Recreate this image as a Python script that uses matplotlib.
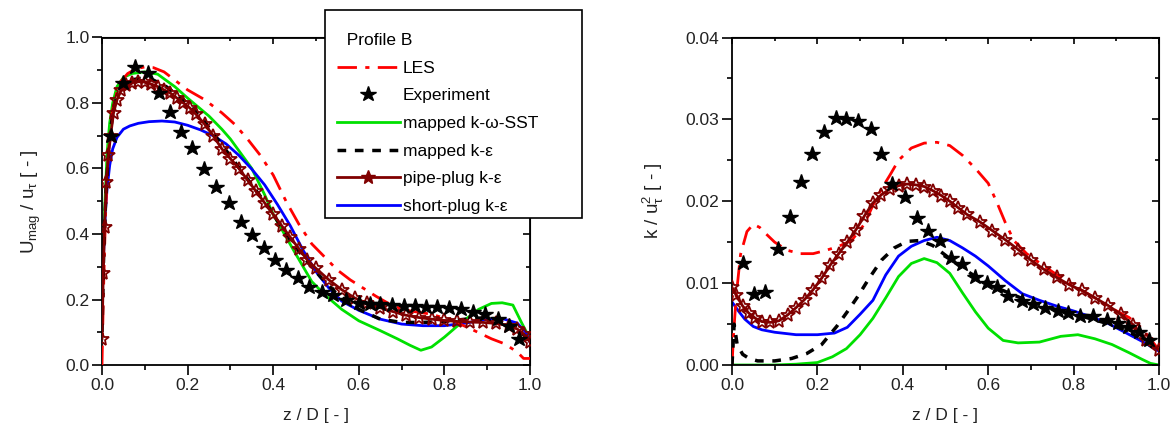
import matplotlib
matplotlib.use("Agg")
import matplotlib.pyplot as plt
from matplotlib.lines import Line2D
from matplotlib.patches import Rectangle
from matplotlib.ticker import MultipleLocator, FormatStrFormatter

plt.rcParams['font.family'] = ['Liberation Sans', 'DejaVu Sans']
plt.rcParams['mathtext.fontset'] = 'custom'
plt.rcParams['mathtext.rm'] = 'Liberation Sans'
plt.rcParams['mathtext.it'] = 'Liberation Sans'

# ---------------- left panel : U_mag / u_tau ----------------
les_x_u = [0.0, 0.003, 0.008, 0.015, 0.025, 0.04, 0.06, 0.08, 0.1, 0.12, 0.145, 0.17, 0.2, 0.24,
           0.28, 0.31, 0.34, 0.37, 0.4, 0.43, 0.46, 0.49, 0.52, 0.55, 0.58, 0.61, 0.64, 0.68,
           0.72, 0.77, 0.82, 0.87, 0.91, 0.94, 0.97, 0.985, 1.0]
les_y_u = [0.0, 0.2, 0.45, 0.65, 0.78, 0.86, 0.89, 0.905, 0.91, 0.908, 0.895, 0.87, 0.84, 0.81,
           0.77, 0.735, 0.69, 0.64, 0.58, 0.5, 0.43, 0.37, 0.33, 0.29, 0.26, 0.235, 0.21, 0.18,
           0.165, 0.155, 0.135, 0.105, 0.08, 0.065, 0.04, 0.02, 0.02]

exp_x_u = [0.022, 0.048, 0.077, 0.108, 0.133, 0.159, 0.185, 0.211, 0.238, 0.267, 0.296, 0.325,
           0.351, 0.378, 0.404, 0.431, 0.457, 0.483, 0.513, 0.54, 0.57, 0.60, 0.625, 0.65,
           0.678, 0.705, 0.732, 0.758, 0.782, 0.81, 0.838, 0.866, 0.895, 0.925, 0.952, 0.975]
exp_y_u = [0.70, 0.86, 0.909, 0.891, 0.83, 0.773, 0.712, 0.662, 0.6, 0.544, 0.494, 0.437,
           0.396, 0.357, 0.322, 0.291, 0.266, 0.239, 0.223, 0.213, 0.2, 0.19, 0.186, 0.186,
           0.182, 0.18, 0.18, 0.177, 0.176, 0.174, 0.171, 0.163, 0.155, 0.14, 0.12, 0.078]

sst_x_u = [0.0, 0.003, 0.007, 0.012, 0.018, 0.025, 0.035, 0.05, 0.07, 0.1, 0.13, 0.17, 0.2,
           0.25, 0.28, 0.3, 0.35, 0.38, 0.4, 0.45, 0.49, 0.52, 0.56, 0.6, 0.65, 0.69, 0.72,
           0.745, 0.77, 0.8, 0.84, 0.88, 0.91, 0.935, 0.96, 0.98, 1.0]
sst_y_u = [0.25, 0.35, 0.5, 0.65, 0.74, 0.8, 0.85, 0.878, 0.89, 0.895, 0.888, 0.85, 0.815,
           0.76, 0.72, 0.69, 0.6, 0.52, 0.46, 0.345, 0.255, 0.215, 0.17, 0.135, 0.105, 0.08, 0.06,
           0.045, 0.055, 0.085, 0.13, 0.17, 0.188, 0.19, 0.183, 0.13, 0.08]

ke_x_u = [0.0, 0.004, 0.01, 0.02, 0.03, 0.045, 0.065, 0.09, 0.12, 0.15, 0.19, 0.23, 0.27, 0.31,
          0.35, 0.39, 0.43, 0.47, 0.51, 0.55, 0.6, 0.65, 0.7, 0.75, 0.8, 0.85, 0.9, 0.94, 0.97, 1.0]
ke_y_u = [0.1, 0.35, 0.55, 0.72, 0.8, 0.85, 0.87, 0.875, 0.87, 0.85, 0.81, 0.76, 0.69, 0.62,
          0.55, 0.48, 0.4, 0.33, 0.27, 0.215, 0.17, 0.14, 0.13, 0.13, 0.133, 0.14, 0.145, 0.135,
          0.115, 0.07]

pipe_x_u = [0.0, 0.003, 0.006, 0.01, 0.015, 0.02, 0.027, 0.035, 0.045, 0.057, 0.07, 0.085, 0.1,
            0.115, 0.13, 0.145, 0.16, 0.175, 0.19, 0.205, 0.22, 0.24, 0.26, 0.28, 0.3, 0.32, 0.34,
            0.36, 0.38, 0.4, 0.42, 0.44, 0.46, 0.48, 0.5, 0.53, 0.56, 0.59, 0.62, 0.65, 0.68,
            0.71, 0.74, 0.77, 0.8, 0.83, 0.86, 0.89, 0.92, 0.95, 0.97, 0.985, 1.0]
pipe_y_u = [0.08, 0.28, 0.42, 0.56, 0.64, 0.7, 0.77, 0.81, 0.84, 0.855, 0.862, 0.865, 0.864,
            0.858, 0.85, 0.84, 0.83, 0.815, 0.8, 0.785, 0.765, 0.735, 0.7, 0.66, 0.63, 0.6, 0.565,
            0.53, 0.495, 0.46, 0.425, 0.39, 0.355, 0.32, 0.295, 0.26, 0.23, 0.205, 0.188, 0.175,
            0.163, 0.152, 0.145, 0.14, 0.136, 0.133, 0.131, 0.13, 0.127, 0.12, 0.11, 0.095, 0.07]

short_x_u = [0.0, 0.004, 0.008, 0.012, 0.018, 0.025, 0.035, 0.05, 0.065, 0.085, 0.11, 0.14, 0.17,
             0.2, 0.23, 0.26, 0.29, 0.32, 0.35, 0.38, 0.41, 0.44, 0.47, 0.5, 0.53, 0.56, 0.6,
             0.65, 0.7, 0.75, 0.8, 0.85, 0.9, 0.94, 0.97, 0.99, 1.0]
short_y_u = [0.22, 0.35, 0.47, 0.54, 0.61, 0.66, 0.695, 0.72, 0.73, 0.738, 0.743, 0.745, 0.742,
             0.732, 0.718, 0.7, 0.675, 0.64, 0.598, 0.55, 0.49, 0.425, 0.35, 0.285, 0.235, 0.195,
             0.167, 0.14, 0.125, 0.12, 0.12, 0.128, 0.14, 0.14, 0.128, 0.1, 0.07]

# ---------------- right panel : k / u_tau^2 ----------------
les_x_k = [0.0, 0.004, 0.01, 0.02, 0.035, 0.05, 0.065, 0.08, 0.1, 0.13, 0.16, 0.19, 0.22, 0.25,
           0.28, 0.31, 0.33, 0.35, 0.37, 0.39, 0.42, 0.45, 0.48, 0.51, 0.54, 0.57, 0.6, 0.62,
           0.64, 0.66, 0.69, 0.73, 0.77, 0.81, 0.85, 0.89, 0.93, 0.96, 0.99, 1.0]
les_y_k = [0.0, 0.004, 0.0085, 0.0135, 0.0163, 0.0172, 0.0168, 0.016, 0.015, 0.014, 0.0136,
           0.0136, 0.014, 0.0145, 0.0152, 0.0172, 0.0195, 0.0215, 0.0232, 0.025, 0.0265, 0.0271,
           0.0272, 0.0268, 0.0256, 0.024, 0.0222, 0.0199, 0.0174, 0.0152, 0.0136, 0.0121,
           0.0107, 0.0094, 0.0082, 0.0069, 0.0058, 0.0045, 0.0025, 0.0018]

exp_x_k = [0.025, 0.052, 0.078, 0.107, 0.136, 0.161, 0.188, 0.216, 0.243, 0.268, 0.294, 0.326,
           0.35, 0.375, 0.406, 0.433, 0.46, 0.486, 0.514, 0.538, 0.569, 0.598, 0.621, 0.647,
           0.678, 0.705, 0.734, 0.763, 0.787, 0.816, 0.845, 0.878, 0.903, 0.927, 0.952, 0.977]
exp_y_k = [0.0125, 0.0087, 0.0089, 0.0142, 0.0181, 0.0223, 0.0258, 0.0284, 0.0302, 0.0301,
           0.0298, 0.0288, 0.0258, 0.0221, 0.0205, 0.0179, 0.0164, 0.0152, 0.0131, 0.0123,
           0.0108, 0.0100, 0.0095, 0.0084, 0.0078, 0.0074, 0.0070, 0.0066, 0.0063, 0.0060,
           0.0060, 0.0055, 0.0051, 0.0047, 0.0040, 0.0030]

sst_x_k = [0.0, 0.05, 0.1, 0.15, 0.2, 0.235, 0.268, 0.3, 0.33, 0.36, 0.39, 0.42, 0.45, 0.48,
           0.51, 0.54, 0.57, 0.6, 0.635, 0.67, 0.72, 0.77, 0.81, 0.85, 0.89, 0.93, 0.96, 0.98, 1.0]
sst_y_k = [0.0, 0.0, 0.0, 0.0001, 0.0003, 0.001, 0.002, 0.0037, 0.0057, 0.0082, 0.0108, 0.0124,
           0.013, 0.0125, 0.0112, 0.0088, 0.0065, 0.0045, 0.003, 0.0027, 0.0028, 0.0035,
           0.0037, 0.0032, 0.0025, 0.0015, 0.0007, 0.0002, 0.0]

ke_x_k = [0.0, 0.005, 0.012, 0.025, 0.04, 0.06, 0.1, 0.14, 0.175, 0.21, 0.245, 0.27, 0.295,
          0.32, 0.35, 0.38, 0.41, 0.44, 0.47, 0.5, 0.54, 0.58, 0.63, 0.69, 0.75, 0.81, 0.87,
          0.92, 0.96, 1.0]
ke_y_k = [0.0, 0.005, 0.0025, 0.0013, 0.0008, 0.0005, 0.0005, 0.0008, 0.0014, 0.0025, 0.0047,
          0.0065, 0.0084, 0.0105, 0.0128, 0.0143, 0.0151, 0.0152, 0.0146, 0.0134, 0.0118,
          0.0105, 0.0092, 0.0079, 0.0069, 0.0061, 0.0052, 0.0043, 0.0032, 0.0015]

pipe_x_k = [0.0, 0.01, 0.025, 0.04, 0.055, 0.07, 0.09, 0.11, 0.13, 0.15, 0.17, 0.19, 0.21, 0.23,
            0.25, 0.27, 0.29, 0.31, 0.33, 0.35, 0.37, 0.39, 0.41, 0.43, 0.45, 0.47, 0.49, 0.51,
            0.53, 0.55, 0.58, 0.61, 0.64, 0.67, 0.7, 0.73, 0.76, 0.79, 0.82, 0.85, 0.88, 0.91,
            0.94, 0.97, 1.0]
pipe_y_k = [0.0095, 0.0085, 0.0072, 0.0063, 0.0057, 0.0053, 0.0052, 0.0054, 0.0061, 0.007,
            0.008, 0.0092, 0.0106, 0.0122, 0.0136, 0.015, 0.0165, 0.0182, 0.0198, 0.0208,
            0.0215, 0.0219, 0.0221, 0.022, 0.0218, 0.0213, 0.0207, 0.02, 0.0192, 0.0184,
            0.0175, 0.0164, 0.0153, 0.0141, 0.0128, 0.0117, 0.0107, 0.0098, 0.0091, 0.0082,
            0.0073, 0.0062, 0.0049, 0.0031, 0.0018]

short_x_k = [0.0, 0.015, 0.03, 0.05, 0.07, 0.1, 0.15, 0.2, 0.24, 0.27, 0.3, 0.33, 0.36, 0.39,
             0.42, 0.45, 0.48, 0.51, 0.54, 0.57, 0.6, 0.64, 0.68, 0.72, 0.76, 0.8, 0.84, 0.88,
             0.92, 0.96, 1.0]
short_y_k = [0.0077, 0.0066, 0.0056, 0.0047, 0.0043, 0.004, 0.0037, 0.0037, 0.0039, 0.0046,
             0.0062, 0.0079, 0.011, 0.0133, 0.0145, 0.0152, 0.0156, 0.0152, 0.0143, 0.0133,
             0.0121, 0.0103, 0.0087, 0.0079, 0.0072, 0.0066, 0.0059, 0.0051, 0.004, 0.0029,
             0.0017]

labels = ['LES', 'Experiment', 'mapped k-\u03c9-SST', 'mapped k-\u03b5', 'pipe-plug k-\u03b5',
          'short-plug k-\u03b5']

BROWN = '#800000'
les_style = dict(color='red', lw=2, ls=(0, (7, 3, 1.5, 3)))
exp_style = dict(color='black', ls='none', marker='*', ms=11.5)
sst_style = dict(color='#00e000', lw=2)
ke_style = dict(color='black', lw=2.5, ls=(0, (2.5, 2.5)))
pipe_style = dict(color=BROWN, lw=2, marker='*', ms=10, mfc='none', mew=1.3)
short_style = dict(color='blue', lw=2)


def draw(ax, data):
    les, exp, sst, ke, pipe, short = data
    ax.plot(*les, **les_style, zorder=3)
    ax.plot(*sst, **sst_style, zorder=2)
    ax.plot(*short, **short_style, zorder=2)
    ax.plot(*ke, **ke_style, zorder=3)
    ax.plot(*pipe, **pipe_style, zorder=4)
    ax.plot(*exp, **exp_style, zorder=5)


def style_axes(ax, ymax, ystep, fmt):
    ax.set_xlim(0, 1)
    ax.set_ylim(0, ymax)
    ax.xaxis.set_major_locator(MultipleLocator(0.2))
    ax.xaxis.set_minor_locator(MultipleLocator(0.1))
    ax.yaxis.set_major_locator(MultipleLocator(ystep))
    ax.yaxis.set_minor_locator(MultipleLocator(ystep / 2))
    ax.xaxis.set_major_formatter(FormatStrFormatter('%.1f'))
    ax.yaxis.set_major_formatter(FormatStrFormatter(fmt))
    ax.tick_params(which='major', direction='out', length=7, width=1.2, labelsize=12.5,
                   labelcolor='#222222', pad=2)
    ax.tick_params(which='minor', direction='out', length=3.5, width=1.2)
    for s in ax.spines.values():
        s.set_linewidth(1.3)
    # inward ticks on top and right, no labels
    top = ax.secondary_xaxis('top')
    top.xaxis.set_major_locator(MultipleLocator(0.2))
    top.xaxis.set_minor_locator(MultipleLocator(0.1))
    top.tick_params(which='major', direction='in', length=5, width=1.2, labeltop=False)
    top.tick_params(which='minor', direction='in', length=3, width=1.2)
    right = ax.secondary_yaxis('right')
    right.yaxis.set_major_locator(MultipleLocator(ystep))
    right.yaxis.set_minor_locator(MultipleLocator(ystep / 2))
    right.tick_params(which='major', direction='in', length=5, width=1.2, labelright=False)
    right.tick_params(which='minor', direction='in', length=3, width=1.2)
    ax.set_xlabel('z / D [ - ]', fontsize=12.5, labelpad=11, color='#222222')


fig = plt.figure(figsize=(11.73, 4.28), dpi=100)
ax1 = fig.add_axes([102 / 1173, 1 - 365 / 428, 428 / 1173, 327.5 / 428])
ax2 = fig.add_axes([732 / 1173, 1 - 365 / 428, 427 / 1173, 327.5 / 428])

draw(ax1, [(les_x_u, les_y_u), (exp_x_u, exp_y_u), (sst_x_u, sst_y_u), (ke_x_u, ke_y_u),
           (pipe_x_u, pipe_y_u), (short_x_u, short_y_u)])
draw(ax2, [(les_x_k, les_y_k), (exp_x_k, exp_y_k), (sst_x_k, sst_y_k), (ke_x_k, ke_y_k),
           (pipe_x_k, pipe_y_k), (short_x_k, short_y_k)])

style_axes(ax1, 1.0, 0.2, '%.1f')
style_axes(ax2, 0.04, 0.01, '%.2f')
ax1.set_ylabel(r'U$_{\mathrm{mag}}$ / u$_{\tau}$ [ - ]', fontsize=13.5, labelpad=16,
               color='#222222')
ax2.set_ylabel(r'k / u$_{\tau}^{2}$ [ - ]', fontsize=13.5, labelpad=14, color='#222222')

# legend box (frame drawn separately, the title sits lower than a normal border pad)
fig.add_artist(Rectangle((325 / 1173, 1 - 218 / 428), 257 / 1173, 208 / 428,
                         transform=fig.transFigure, facecolor='white', edgecolor='black',
                         lw=1.2, zorder=4.5))
handles = [Line2D([], [], **les_style), Line2D([], [], **exp_style),
           Line2D([], [], **sst_style), Line2D([], [], **ke_style),
           Line2D([0, 0.5, 1], [0, 0, 0], color=BROWN, lw=2, marker='*', ms=10, mfc=BROWN,
                  markevery=[1]),
           Line2D([], [], **short_style)]
leg = fig.legend(handles, labels, title='  Profile B', loc='upper left',
                 bbox_to_anchor=(337 / 1173, 1 - 33 / 428), fontsize=12.5, title_fontsize=12.5,
                 frameon=False, handlelength=3.6, handletextpad=0.2, labelspacing=0.72,
                 borderpad=0, alignment='left', borderaxespad=0)
leg.set_zorder(5)

fig.savefig('out.png', dpi=100)
